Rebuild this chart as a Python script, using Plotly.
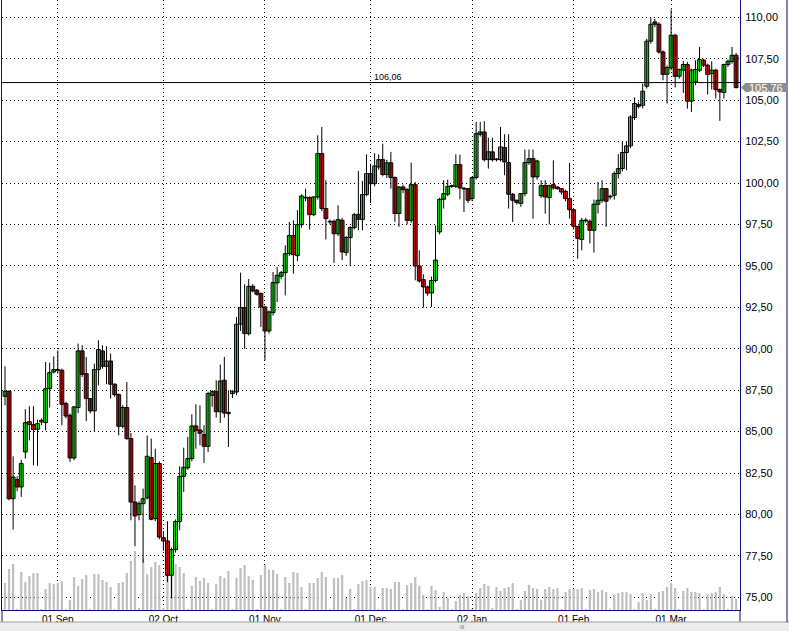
import pandas as pd
import plotly.graph_objects as go

# ---------------- data ----------------
HOLIDAYS = ["2011-10-21", "2011-12-25", "2012-01-01", "2012-01-27", "2012-02-24"]
dates = pd.bdate_range("2011-08-17", "2012-03-20", freq="C",
                       weekmask="Sun Mon Tue Wed Thu Fri", holidays=HOLIDAYS)
x_dates = [d.strftime("%Y-%m-%d") for d in dates]

opens = [87.13, 87.43, 80.95, 82.10, 81.66, 83.77, 85.60, 85.42, 85.14, 85.58,
         85.54, 87.59, 88.60, 88.70, 88.70, 86.69, 85.98, 83.41, 86.45, 89.87,
         88.50, 86.99, 86.25, 88.74, 89.87, 88.94, 89.26, 87.86, 87.23, 85.32,
         86.45, 84.58, 80.75, 79.99, 80.65, 81.00, 83.43, 79.75, 83.07, 78.60,
         78.40, 76.33, 77.88, 79.57, 82.30, 82.81, 83.37, 85.34, 85.10, 84.82,
         84.11, 87.19, 87.41, 86.20, 88.10, 86.16, 87.29, 87.39, 91.48, 92.48,
         90.91, 93.77, 93.53, 93.33, 92.52, 91.07, 92.18, 93.97, 94.37, 94.59,
         95.74, 96.83, 95.62, 97.49, 99.10, 99.12, 98.09, 99.16, 101.78, 98.46,
         97.66, 97.69, 96.94, 97.75, 95.80, 96.71, 97.31, 98.11, 97.79, 99.30,
         100.57, 99.96, 100.97, 101.41, 100.51, 101.22, 100.33, 98.16, 99.76, 99.60,
         97.75, 99.90, 94.99, 94.17, 93.73, 93.36, 94.12, 97.05, 99.02, 99.32,
         99.80, 99.80, 101.11, 99.66, 99.66, 99.06, 100.33, 102.94, 103.08, 101.41,
         101.88, 101.41, 101.41, 102.14, 101.23, 99.32, 98.96, 98.76, 99.36, 101.23,
         101.47, 100.37, 99.23, 99.84, 99.12, 99.90, 99.76, 99.66, 99.50, 99.06,
         98.39, 97.39, 96.59, 97.75, 97.69, 97.15, 98.72, 98.96, 99.66, 99.17,
         99.26, 100.57, 100.87, 101.84, 102.24, 103.95, 104.73, 104.69, 105.84, 108.56,
         109.72, 109.58, 107.91, 106.56, 106.95, 108.92, 106.44, 106.81, 107.15, 104.94,
         106.10, 106.81, 107.41, 107.11, 106.60, 106.81, 105.64, 105.46, 107.15, 107.33,
         107.71]
highs = [88.94, 87.49, 83.51, 82.30, 83.30, 86.35, 86.53, 86.53, 85.72, 85.80,
         89.20, 89.16, 89.54, 89.90, 88.80, 86.80, 86.10, 86.53, 90.31, 90.21,
         89.50, 87.00, 89.10, 90.51, 90.21, 90.15, 89.71, 87.90, 87.30, 86.60,
         87.99, 84.92, 81.76, 80.80, 81.56, 84.76, 84.58, 83.97, 83.20, 79.00,
         79.59, 78.00, 79.70, 82.91, 84.03, 84.68, 86.04, 86.65, 86.59, 85.38,
         87.41, 87.50, 88.10, 89.04, 89.51, 87.49, 87.50, 91.92, 94.59, 93.89,
         94.21, 93.90, 93.60, 93.40, 92.60, 92.30, 94.63, 94.94, 94.70, 96.24,
         97.65, 97.75, 98.36, 99.32, 99.66, 99.20, 99.20, 102.88, 103.38, 100.17,
         97.80, 97.80, 98.66, 97.89, 96.80, 97.40, 98.20, 100.73, 100.13, 101.73,
         101.13, 101.80, 101.73, 102.38, 101.40, 101.88, 100.40, 99.80, 99.90, 99.70,
         101.23, 100.06, 95.94, 94.49, 93.80, 94.35, 97.44, 99.10, 100.17, 100.21,
         99.90, 101.73, 101.71, 99.76, 99.70, 100.40, 103.69, 103.69, 103.73, 102.74,
         102.74, 101.50, 103.38, 102.94, 102.94, 99.40, 99.00, 99.40, 102.02, 102.02,
         102.02, 101.40, 100.17, 100.17, 99.90, 101.37, 99.80, 99.70, 99.60, 101.21,
         98.40, 97.40, 97.90, 97.90, 97.80, 99.00, 100.07, 100.17, 99.70, 99.30,
         100.70, 101.74, 102.48, 102.48, 104.09, 105.16, 104.90, 106.00, 108.70, 109.98,
         109.90, 109.70, 108.00, 107.10, 110.47, 109.00, 106.90, 107.37, 107.31, 106.90,
         107.41, 108.21, 107.50, 107.20, 107.35, 106.90, 105.70, 107.20, 107.45, 108.21,
         107.85]
lows = [86.59, 80.85, 79.10, 81.40, 81.06, 83.37, 84.47, 82.97, 82.93, 85.40,
        85.08, 86.45, 88.50, 88.50, 85.38, 85.80, 83.17, 83.27, 86.12, 88.30,
        85.64, 86.10, 84.98, 87.79, 88.80, 87.86, 86.99, 87.10, 84.78, 85.20,
        84.50, 79.65, 78.08, 79.65, 77.09, 80.90, 79.65, 79.60, 78.50, 77.80,
        75.92, 74.92, 77.70, 79.04, 81.36, 82.70, 83.20, 83.97, 84.17, 83.11,
        83.77, 86.50, 85.84, 85.52, 85.84, 84.07, 87.03, 87.20, 91.07, 89.99,
        90.80, 93.40, 93.20, 91.31, 89.30, 90.91, 92.00, 92.82, 94.20, 93.22,
        95.60, 94.53, 95.30, 97.30, 98.90, 97.19, 98.00, 99.00, 98.30, 96.59,
        97.50, 95.18, 96.80, 95.34, 95.60, 94.98, 97.20, 97.15, 97.15, 99.20,
        98.80, 99.80, 100.80, 100.40, 100.30, 99.66, 97.65, 97.35, 99.40, 97.51,
        97.60, 94.13, 94.00, 92.48, 93.20, 92.52, 94.00, 96.90, 98.46, 99.20,
        99.70, 99.70, 99.02, 98.25, 98.80, 98.90, 100.20, 102.80, 101.30, 100.87,
        101.30, 101.30, 101.30, 100.47, 98.46, 97.65, 98.70, 98.56, 99.20, 101.10,
        97.85, 100.20, 99.10, 98.15, 97.51, 99.60, 99.60, 99.30, 98.90, 97.85,
        97.20, 95.43, 95.94, 97.60, 96.35, 95.80, 98.16, 98.80, 97.35, 99.00,
        99.00, 100.27, 100.70, 100.77, 102.10, 103.80, 104.50, 104.50, 105.70, 108.40,
        109.40, 107.80, 106.20, 104.79, 106.80, 105.76, 106.30, 105.44, 104.49, 104.29,
        105.90, 106.70, 107.00, 105.34, 105.64, 105.10, 103.75, 105.10, 107.00, 107.20,
        105.70]
closes = [87.43, 80.95, 82.26, 81.66, 83.07, 85.54, 85.42, 85.12, 85.48, 85.68,
          87.59, 88.56, 88.74, 88.74, 86.65, 85.94, 83.41, 86.49, 89.87, 88.46,
          86.99, 86.25, 88.74, 89.95, 88.94, 89.26, 87.86, 87.23, 85.32, 86.45,
          84.58, 80.75, 79.91, 80.65, 80.95, 83.51, 79.71, 83.07, 78.64, 78.40,
          76.33, 77.88, 79.57, 82.30, 82.85, 83.37, 85.34, 85.08, 84.90, 84.11,
          87.29, 87.41, 86.20, 88.05, 86.12, 86.08, 87.43, 91.48, 92.48, 90.91,
          93.77, 93.49, 93.29, 92.52, 91.07, 92.22, 93.99, 94.43, 94.59, 95.74,
          96.83, 95.68, 97.49, 99.22, 99.12, 98.09, 99.16, 101.78, 98.46, 97.85,
          97.65, 96.94, 97.79, 95.84, 96.71, 97.31, 98.09, 97.81, 99.30, 100.57,
          99.96, 101.03, 101.41, 100.51, 101.22, 100.33, 98.16, 99.76, 99.60, 97.75,
          99.90, 94.99, 94.09, 93.73, 93.36, 94.12, 95.35, 99.02, 99.36, 99.80,
          99.83, 101.11, 99.70, 99.64, 98.96, 100.33, 102.98, 103.08, 101.41, 101.88,
          101.41, 101.43, 102.18, 101.27, 99.32, 98.96, 98.82, 99.36, 101.23, 101.47,
          100.37, 101.33, 99.84, 99.16, 99.84, 99.70, 99.66, 99.46, 99.06, 98.39,
          97.39, 96.65, 97.75, 97.72, 97.15, 98.72, 98.96, 99.66, 98.90, 99.16,
          100.57, 100.87, 101.84, 102.24, 103.99, 104.80, 104.63, 105.54, 108.56, 109.58,
          109.58, 107.91, 106.56, 106.97, 108.92, 106.44, 106.85, 107.15, 104.94, 106.81,
          106.85, 107.45, 107.11, 106.54, 106.81, 105.64, 105.50, 107.15, 107.35, 107.71,
          105.76]
volume = [27, 41, 46, 1, 38, 28, 34, 37, 37, 1, 21, 27, 26, 27, 29, 1, 10, 33, 24, 31,
          35, 1, 36, 36, 30, 28, 23, 1, 27, 28, 37, 49,
          59, 2, 51, 36, 43, 48, 45, 2, 51, 51, 46, 43, 37, 1, 24, 33, 29, 32,
          27, 1, 26, 34, 32, 39, 1, 32, 42, 45, 34, 30, 1, 35, 45, 40, 40, 36,
          1, 33, 27, 38, 37, 23, 1, 27,
          27, 32, 38, 33, 1, 32, 32, 35, 12, 21, 1, 26, 29, 30, 23, 23, 1, 22,
          22, 21, 28, 28, 1, 25, 27, 33, 24, 15, 1, 24, 20, 3, 18, 12, 1, 9,
          15, 17, 14, 1, 17, 22, 26, 24,
          2, 23, 19, 22, 23, 27, 1, 10, 19, 25, 22, 21, 10, 21, 23, 21, 22, 1,
          18, 21, 21, 21, 22, 1, 20, 21, 18, 20, 18, 1, 15, 17, 18, 18, 16, 1,
          8, 17, 10, 16, 1, 18, 19, 23, 27, 22, 1,
          19, 22, 18, 18, 17, 1, 16, 17, 18, 23, 16, 1, 14, 11]

tick_dates = ["2011-09-01", "2011-10-02", "2011-11-01", "2011-12-01",
              "2012-01-02", "2012-02-01", "2012-03-01"]
tick_labels = ["01 Sep", "02 Oct", "01 Nov", "01 Dec", "02 Jan", "01 Feb", "01 Mar"]
price_ticks = [75 + 2.5 * i for i in range(15)]
ref_line = 106.06
last_price = closes[-1]

# ---------------- figure ----------------
W, H = 789, 631
ML, MR, MT, MB = 2, 49, 0, 21
PW, PH = W - ML - MR, H - MT - MB
NAVY = "#101070"
FONT = "Liberation Sans"
UP, DOWN = "#22e622", "#dc1414"


def px_x(px):
    return (px - ML) / PW


def px_y(py):
    return (H - MB - py) / PH


body_base = [min(o, c) for o, c in zip(opens, closes)]
body_size = [max(abs(c - o), 0.04) for o, c in zip(opens, closes)]
body_color = [UP if c >= o else DOWN for o, c in zip(opens, closes)]
wick_x, wick_y = [], []
for d, lo, hi in zip(x_dates, lows, highs):
    wick_x += [d, d, None]
    wick_y += [lo, hi, None]

fig = go.Figure()
fig.add_trace(go.Bar(x=x_dates, y=volume, marker=dict(color="#c0c0c0", line=dict(width=0)),
                     width=0.55, yaxis="y", showlegend=False, hoverinfo="skip"))
fig.add_trace(go.Scatter(x=wick_x, y=wick_y, mode="lines", yaxis="y2",
                         line=dict(color="black", width=1), showlegend=False,
                         hoverinfo="skip"))
fig.add_trace(go.Bar(x=x_dates, y=body_size, base=body_base, yaxis="y2", width=0.95,
                     marker=dict(color=body_color, line=dict(color="black", width=1)),
                     showlegend=False, hoverinfo="skip"))

grid = dict(showgrid=True, gridcolor="#000000", gridwidth=1, griddash="1px,3px")

fig.update_layout(
    width=W, height=H, margin=dict(l=ML, r=MR, t=MT, b=MB),
    paper_bgcolor="white", plot_bgcolor="white",
    separators=",.", barmode="overlay",
    font=dict(family=FONT, size=11, color="black"),
    xaxis=dict(type="category", range=[-0.74, 180.96], tickmode="array",
               tickvals=tick_dates, ticktext=tick_labels, ticks="",
               tickfont=dict(size=10), showline=True, linecolor=NAVY, linewidth=1,
               **grid),
    yaxis=dict(range=[0, PH], visible=False, showgrid=False, fixedrange=True),
    yaxis2=dict(overlaying="y", side="right", range=[74.234, 111.044],
                tickmode="array", tickvals=price_ticks, tickformat=".2f",
                ticks="outside", ticklen=2, tickcolor="white",
                showline=True, mirror=True, linecolor=NAVY, linewidth=1,
                zeroline=False, tickfont=dict(size=11), **grid),
    hovermode=False,
)

shapes = [
    dict(type="line", xref="paper", yref="y2", x0=0, x1=1, y0=ref_line, y1=ref_line,
         line=dict(color="black", width=1)),
    dict(type="line", xref="paper", yref="paper", x0=0, x1=0, y0=0, y1=px_y(622),
         line=dict(color=NAVY, width=1)),
    dict(type="line", xref="paper", yref="paper", x0=1, x1=1, y0=0, y1=px_y(622),
         line=dict(color=NAVY, width=1)),
    dict(type="rect", xref="paper", yref="paper", x0=px_x(0), x1=px_x(789),
         y0=px_y(631), y1=px_y(622), fillcolor="#ececec", line=dict(width=0), layer="above"),
    dict(type="line", xref="paper", yref="paper", x0=px_x(0), x1=px_x(789),
         y0=px_y(622), y1=px_y(622), line=dict(color="#a0a0a0", width=1)),
    dict(type="line", xref="paper", yref="paper", x0=px_x(787), x1=px_x(787),
         y0=1, y1=px_y(622), line=dict(color=NAVY, width=1)),
    dict(type="rect", xref="paper", yref="y2", x0=px_x(745), x1=px_x(786),
         y0=last_price - 0.27, y1=last_price + 0.27, fillcolor="#8e8e8e",
         line=dict(width=0), layer="above"),
    dict(type="path", xref="paper", yref="y2",
         path=f"M {px_x(741)},{last_price} L {px_x(745.5)},{last_price + 0.27} "
              f"L {px_x(745.5)},{last_price - 0.27} Z",
         fillcolor="#8e8e8e", line=dict(width=0), layer="above"),
]
fig.update_layout(shapes=shapes)

fig.add_annotation(xref="paper", yref="y2", x=px_x(388), y=ref_line, yanchor="bottom",
                   text=f"{ref_line:.2f}".replace(".", ","), showarrow=False,
                   font=dict(size=9, color="black"), yshift=-1)
fig.add_annotation(xref="paper", yref="y2", x=px_x(765.5), y=last_price, xanchor="center",
                   yanchor="middle", text=f"{last_price:.2f}".replace(".", ","),
                   showarrow=False, font=dict(size=11, color="white"))
fig.add_annotation(xref="paper", yref="paper", x=px_x(462), y=px_y(631), yanchor="bottom",
                   text="III", showarrow=False, font=dict(size=5, color="#606060"),
                   borderpad=0)

fig.write_html("out.html", config={"displayModeBar": False},
               post_script="document.body.style.margin='0';")
